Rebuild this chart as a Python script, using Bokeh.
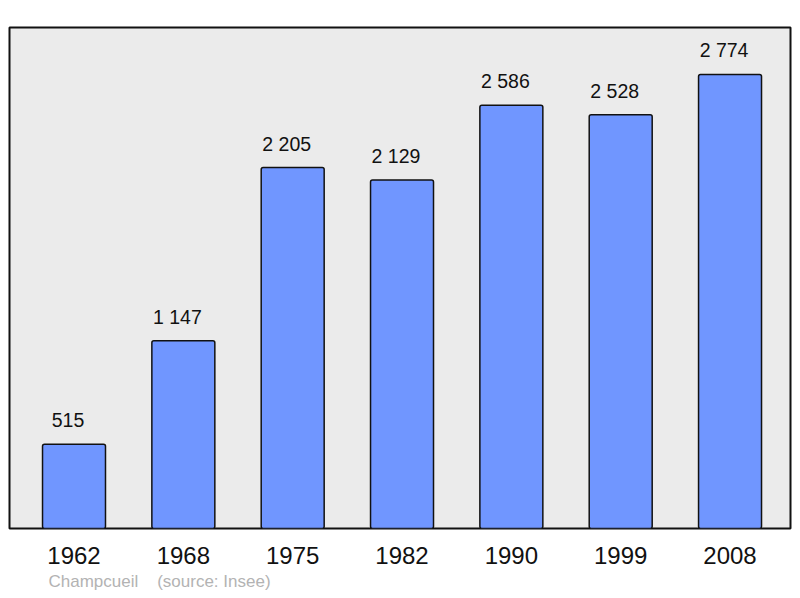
from bokeh.plotting import figure
from bokeh.models import ColumnDataSource, Range1d, FixedTicker, LabelSet, Title
from bokeh.core.properties import value
from bokeh.embed import file_html
from bokeh.resources import INLINE

years = ["1962", "1968", "1975", "1982", "1990", "1999", "2008"]
population = [515, 1147, 2205, 2129, 2586, 2528, 2774]
labels = [f"{v:,}".replace(",", "\u00a0") for v in population]
commune = "Champcueil"
source_note = "(source: Insee)"
xpos = list(range(len(years)))

src = ColumnDataSource(dict(x=xpos, y=population, lab=labels))

p = figure(width=800, height=598, output_backend="svg", toolbar_location=None,
           x_range=Range1d(-0.59, 6.553), y_range=Range1d(0, 3061),
           min_border_left=9, min_border_right=10, min_border_top=27, min_border_bottom=70)
p.background_fill_color = "#ebebeb"
p.border_fill_color = "white"
p.outline_line_color = "#111111"
p.outline_line_width = 2
p.grid.visible = False
p.yaxis.visible = False

p.vbar(x="x", top="y", bottom=0, width=0.576, source=src,
       fill_color="#7096ff", line_color="#111111", line_width=1.5, border_radius=2)

ls = LabelSet(x="x", y="y", text="lab", source=src, text_align="center",
              text_baseline="alphabetic", y_offset=17, x_offset=-6,
              text_font=value("Liberation Sans"),
              text_font_size="19.5px", text_color="#111111")
p.add_layout(ls)

ax = p.xaxis[0]
ax.ticker = FixedTicker(ticks=xpos)
ax.major_label_overrides = {i: y for i, y in zip(xpos, years)}
ax.axis_line_color = None
ax.major_tick_line_color = None
ax.minor_tick_line_color = None
ax.major_tick_out = 0
ax.major_tick_in = 0
ax.major_label_standoff = 18
ax.major_label_text_font = "Liberation Sans"
ax.major_label_text_font_size = "24px"
ax.major_label_text_color = "#111111"

foot = Title(text=commune + "\u00a0" * 4 + source_note, align="left", offset=39, standoff=6,
             text_font="Liberation Sans", text_font_size="17px",
             text_font_style="normal", text_color="#b3b3b3")
p.add_layout(foot, "below")

open("out.html", "w").write(file_html(p, INLINE))
